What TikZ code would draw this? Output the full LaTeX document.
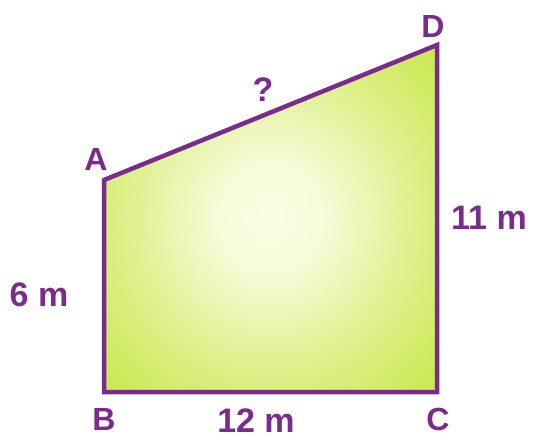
\documentclass[tikz,border=0pt]{standalone}
\usepackage{fontspec}
\setmainfont{Liberation Sans}
\definecolor{edgepurple}{HTML}{7A2C8C}
\definecolor{fillgreen}{HTML}{C6E640}
\definecolor{fillmid}{HTML}{DDF08A}
\definecolor{fillcenter}{HTML}{FAFDE6}
\pgfdeclareradialshading{softglow}{\pgfpoint{0bp}{0bp}}{%
  color(0bp)=(fillcenter);
  color(8bp)=(fillcenter!85!fillmid);
  color(22bp)=(fillmid);
  color(38bp)=(fillgreen);
  color(50bp)=(fillgreen)}
\tikzset{
  vlabel/.style={text=edgepurple, font=\fontsize{32}{32}\selectfont\bfseries, inner sep=0pt},
  mlabel/.style={text=edgepurple, font=\fontsize{34}{34}\selectfont\bfseries, inner sep=0pt},
  side/.style={draw=edgepurple, line width=4.5pt, line join=miter}
}
\begin{document}
\begin{tikzpicture}[x=1pt,y=-1pt]
\useasboundingbox (0,0) rectangle (533,440);
\coordinate (A) at (104,180);
\coordinate (B) at (104,392);
\coordinate (C) at (437,392);
\coordinate (D) at (437,45);
\shade[shading=softglow] (A) -- (B) -- (C) -- (D) -- cycle;
\draw[side] (A) -- (B) -- (C) -- (D) -- cycle;
\node[vlabel] (lA) at (96,159) {A};
\node[vlabel] (lB) at (104,419) {B};
\node[vlabel] (lC) at (438,419) {C};
\node[vlabel] (lD) at (433,26) {D};
\node[mlabel] (lq) at (263,90) {?};
\node[mlabel] (l11) at (489,218) {11 m};
\node[mlabel] (l6) at (39,295) {6 m};
\node[mlabel] (l12) at (256,421) {12 m};
\end{tikzpicture}
\end{document}
